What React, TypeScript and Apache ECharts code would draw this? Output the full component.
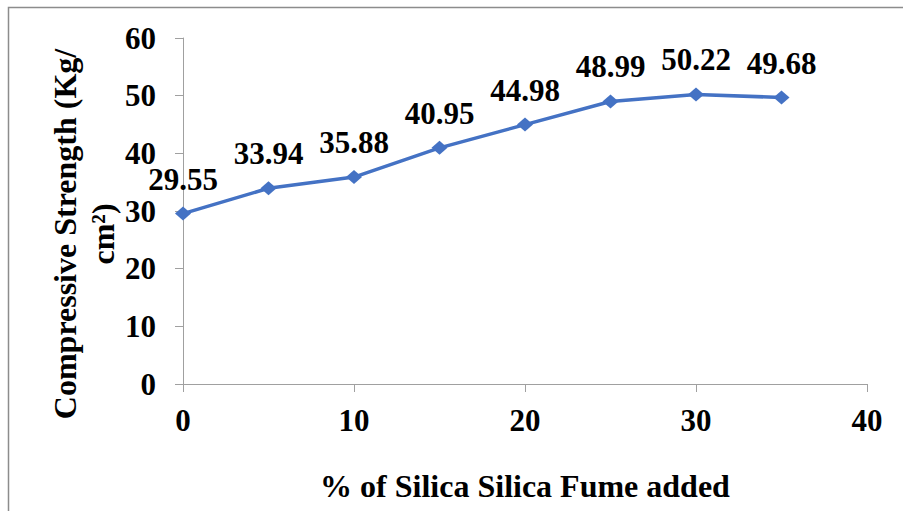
import React, { useEffect, useRef } from "react";
import * as echarts from "echarts";

const silicaFume = [0, 5, 10, 15, 20, 25, 30, 35];
const strength = [29.55, 33.94, 35.88, 40.95, 44.98, 48.99, 50.22, 49.68];
const xTitle = "% of Silica Silica Fume added";
const yTitleLines = ["Compressive Strength (Kg/", "cm²)"];

const FONT = "'Liberation Serif', 'Times New Roman', serif";

export default function App() {
  const ref = useRef<HTMLDivElement>(null);

  useEffect(() => {
    document.body.style.margin = "0";
    const chart = echarts.init(ref.current!, null, { renderer: "svg" });
    chart.setOption({
      animation: false,
      backgroundColor: "#ffffff",
      grid: { left: 183, top: 38, right: 36, bottom: 127, containLabel: false },
      xAxis: {
        type: "value",
        min: 0,
        max: 40,
        interval: 10,
        name: xTitle,
        nameLocation: "middle",
        nameGap: 86,
        nameTextStyle: { fontFamily: FONT, fontWeight: "bold", fontSize: 32, color: "#000" },
        axisLine: { show: true, lineStyle: { color: "#a0a0a0", width: 1 } },
        axisTick: { show: true, length: 8, lineStyle: { color: "#a0a0a0" } },
        axisLabel: { fontFamily: FONT, fontWeight: "bold", fontSize: 31, color: "#000", margin: 21 },
        splitLine: { show: false },
      },
      yAxis: {
        type: "value",
        min: 0,
        max: 60,
        interval: 10,
        axisLine: { show: true, lineStyle: { color: "#a0a0a0", width: 1 } },
        axisTick: { show: true, length: 8, lineStyle: { color: "#a0a0a0" } },
        axisLabel: { fontFamily: FONT, fontWeight: "bold", fontSize: 31, color: "#000", margin: 27 },
        splitLine: { show: false },
      },
      graphic: [
        {
          type: "rect",
          shape: { x: 8.5, y: 7.5, width: 1200, height: 1200 },
          style: { fill: "none", stroke: "#8c8c8c", lineWidth: 1.5 },
          silent: true,
        },
        {
          type: "text",
          x: 84,
          y: 234,
          rotation: Math.PI / 2,
          style: {
            text: yTitleLines.join("\n"),
            font: `bold 32px ${FONT}`,
            fill: "#000",
            align: "center",
            verticalAlign: "middle",
            lineHeight: 38,
          },
        },
      ],
      series: [
        {
          type: "line",
          data: silicaFume.map((x, i) => [x, strength[i]]),
          symbol: "diamond",
          symbolSize: [16, 14],
          lineStyle: { color: "#4472C4", width: 3.5 },
          itemStyle: { color: "#4472C4" },
          label: {
            show: true,
            position: "top",
            distance: 12,
            fontFamily: FONT,
            fontWeight: "bold",
            fontSize: 31,
            color: "#000",
            formatter: (p: any) => p.value[1].toFixed(2),
          },
        },
      ],
    });
    return () => chart.dispose();
  }, []);

  return <div ref={ref} style={{ width: 903, height: 511 }} />;
}
